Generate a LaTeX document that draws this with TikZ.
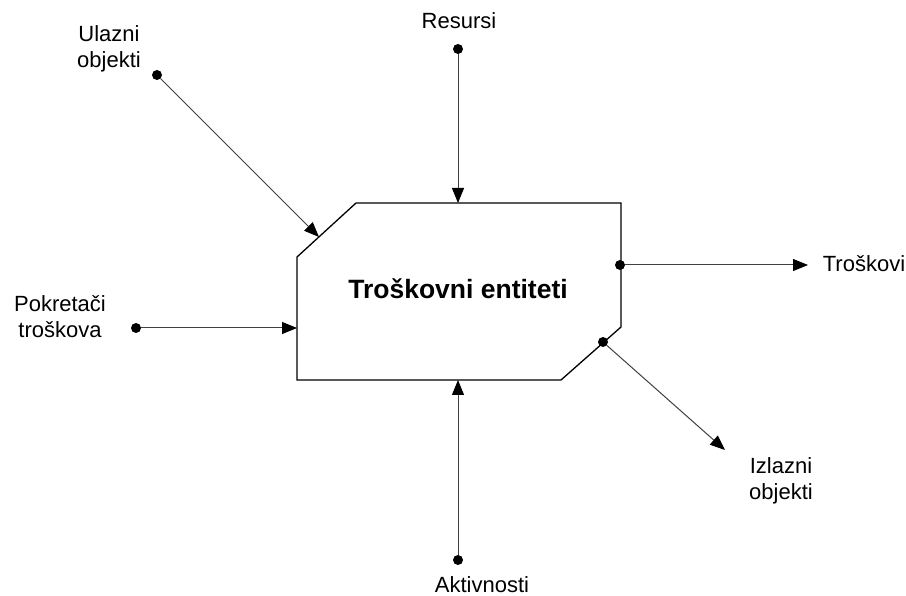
\documentclass[tikz,border=0pt]{standalone}
\usepackage{fontspec}
\setmainfont{Liberation Sans}
\usetikzlibrary{arrows.meta,positioning}
\tikzset{>={Triangle[length=15pt,width=12pt,color=black]}}
\tikzstyle{dot} = [circle, fill=black, inner sep=0pt, minimum size=10pt]
\tikzstyle{lbl} = [align=center, anchor=base, inner sep=0pt, font=\fontsize{22}{26}\selectfont]
\tikzstyle{conn} = [->, draw=black!75, line width=1pt]

\begin{document}
\begin{tikzpicture}[x=1pt,y=-1pt]
    \useasboundingbox (0,0) rectangle (906,596);
    % cost entity block
    \coordinate (p1) at (297,257);
    \coordinate (p2) at (356,203);
    \coordinate (p3) at (621,203);
    \coordinate (p4) at (621,327);
    \coordinate (p5) at (561,380);
    \coordinate (p6) at (297,380);
    \draw[line width=1.3pt] (p1) -- (p2) -- (p3) -- (p4) -- (p5) -- (p6) -- cycle;
    \node[anchor=base, inner sep=0pt, font=\bfseries\fontsize{26.5}{30}\selectfont](TE) at (458,299) {Troškovni entiteti};

    % inputs
    \node [dot](uo) at (157,75) {};
    \coordinate (uoT) at (319,237);
    \node [dot](re) at (458,49) {};
    \coordinate (reT) at (458,203);
    \node [dot](pt) at (136,328) {};
    \coordinate (ptT) at (297,328);
    \node [dot](ak) at (458,560) {};
    \coordinate (akT) at (458,380);
    % outputs
    \node [dot](tr) at (620,265) {};
    \coordinate (trT) at (808,265);
    \node [dot](io) at (603,342) {};
    \coordinate (ioT) at (725,450);

    \foreach \id in {uo,re,pt,ak,tr,io}
    {
        \draw [conn] (\id) -- (\id T);
    }

    \node [lbl](uoL) at (109,68) {Ulazni\\objekti};
    \node [lbl](reL) at (459,29) {Resursi};
    \node [lbl](ptL) at (60,338) {Pokretači\\troškova};
    \node [lbl](akL) at (482,592) {Aktivnosti};
    \node [lbl](trL) at (864,272) {Troškovi};
    \node [lbl](ioL) at (781,499) {Izlazni\\objekti};
\end{tikzpicture}
\end{document}
